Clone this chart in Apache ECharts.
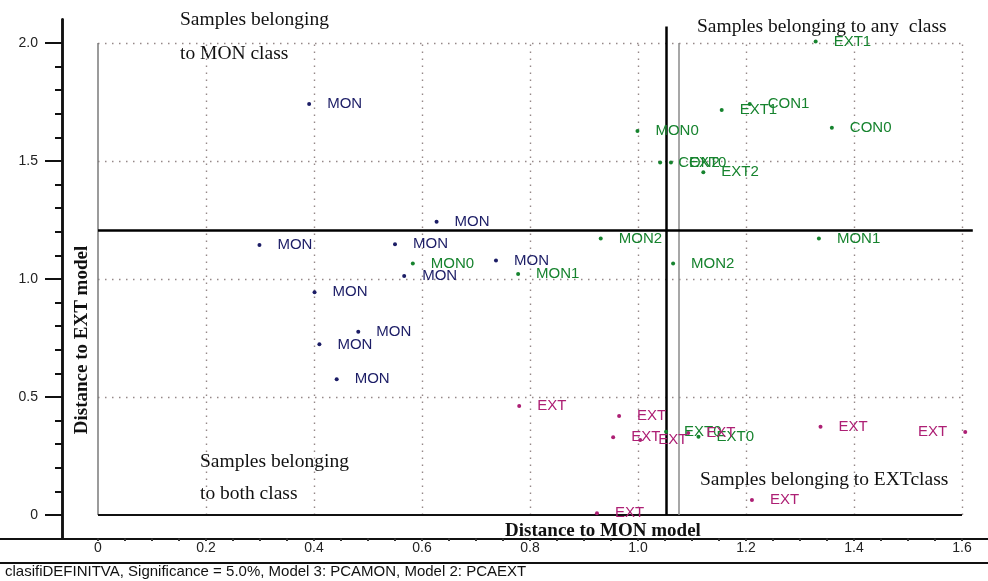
<!DOCTYPE html>
<html>
<head>
<meta charset="utf-8">
<script src="https://cdn.jsdelivr.net/npm/echarts@6/dist/echarts.min.js"></script>
<style>
html, body { margin: 0; padding: 0; background: #fff; }
#chart { width: 988px; height: 581px; }
</style>
</head>
<body>
<div id="chart"></div>
<script>
// Training samples of the MON class
const monX = [0.391, 0.627, 0.299, 0.550, 0.737, 0.567, 0.401, 0.482, 0.410, 0.442];
const monY = [1.742, 1.243, 1.144, 1.147, 1.078, 1.013, 0.944, 0.777, 0.723, 0.575];

// Test samples (labelled by origin)
const testNames = ['MON0', 'MON1', 'MON2', 'MON2', 'MON1', 'MON0', 'CON0', 'EXT1', 'EXT1', 'CON1', 'CON2', 'EXT0', 'EXT2', 'EXT0', 'EXT0'];
const testX = [0.583, 0.778, 0.931, 1.065, 1.335, 0.999, 1.359, 1.329, 1.155, 1.207, 1.041, 1.061, 1.121, 1.052, 1.112];
const testY = [1.066, 1.021, 1.172, 1.066, 1.172, 1.627, 1.641, 2.006, 1.716, 1.742, 1.494, 1.494, 1.452, 0.353, 0.332];

// Training samples of the EXT class
const extX = [0.780, 0.965, 0.954, 1.004, 1.093, 1.338, 1.606, 1.211, 0.924];
const extY = [0.462, 0.419, 0.329, 0.318, 0.347, 0.374, 0.352, 0.064, 0.007];

// Critical distances (significance 5 %)
const critMON = 1.052;
const critMONalt = 1.076;
const critEXT = 1.205;

// Axis ticks
const xTickLabels = [0, 0.2, 0.4, 0.6, 0.8, 1.0, 1.2, 1.4, 1.6];
const yTickLabels = [0, 0.5, 1.0, 1.5, 2.0];
const xMinorTicks = [];
for (let i = 0; i <= 32; i++) xMinorTicks.push(+(i * 0.05).toFixed(2));
const yMinorTicks = [];
for (let i = 0; i <= 20; i++) yMinorTicks.push(+(i * 0.1).toFixed(1));

const C_MON = '#1c1d66';
const C_TEST = '#16832e';
const C_EXT = '#ad1f74';
const LABEL_FONT = 'Liberation Sans, Arial, sans-serif';
const SERIF = 'Liberation Serif, Times New Roman, serif';

function points(xs, ys, names) {
  return xs.map((x, i) => {
    const item = { name: typeof names === 'string' ? names : names[i], value: [x, ys[i]] };
    // points beyond the last grid line get their label on the left
    if (x > xTickLabels[xTickLabels.length - 1]) item.label = { position: 'left' };
    return item;
  });
}

function scatter(name, data, color) {
  return {
    name, type: 'scatter', data, symbolSize: 4, z: 5,
    itemStyle: { color, opacity: 1 },
    label: {
      show: true, position: 'right', distance: 16,
      formatter: '{b}', color, fontFamily: LABEL_FONT, fontSize: 15
    },
    labelLayout: { hideOverlap: false },
    emphasis: { disabled: true },
    animation: false
  };
}

const dotted = { color: '#958888', width: 1.4, type: [1.5, 5.5] };
const seg = (a, b, style) => [{ coord: a, lineStyle: style }, { coord: b }];
const frameLines = [];
xTickLabels.slice(1).forEach(v => frameLines.push(seg([v, 0], [v, 2], dotted)));
yTickLabels.slice(1).forEach(v => frameLines.push(seg([0, v], [1.6, v], dotted)));
frameLines.push(seg([0, 0], [0, 2], { color: '#7a7a7a', width: 1.5, type: 'solid' }));
frameLines.push(seg([0, 0], [1.6, 0], { color: '#111', width: 2, type: 'solid' }));
frameLines.push(seg([critMONalt, 0], [critMONalt, 2], { color: '#8a8a8a', width: 1.5, type: 'solid' }));
frameLines.push(seg([critMON, 0], [critMON, 2.07], { color: '#000', width: 2.5, type: 'solid' }));
frameLines.push(seg([0, critEXT], [1.62, critEXT], { color: '#000', width: 2.5, type: 'solid' }));

const chart = echarts.init(document.getElementById('chart'), null, { renderer: 'canvas' });

const tickFmt = v => (v === 0 ? '0' : v.toFixed(1));
const annFont = '19.5px ' + SERIF;

chart.setOption({
  backgroundColor: '#fff',
  animation: false,
  grid: { left: 0, right: 0, top: 19.4, bottom: 42.4, containLabel: false },
  xAxis: {
    type: 'value', min: -98 / 540, max: 890 / 540,
    axisLine: { onZero: false, lineStyle: { color: '#111', width: 2 } },
    axisTick: { show: true, customValues: xMinorTicks, length: 2.5, lineStyle: { color: '#333', width: 2 } },
    axisLabel: {
      customValues: xTickLabels, formatter: tickFmt, margin: 3,
      color: '#222', fontFamily: LABEL_FONT, fontSize: 14
    },
    splitLine: { show: false }
  },
  yAxis: [
    {
      type: 'value', min: -0.1, max: 2.1, offset: -62,
      axisLine: { show: true, onZero: false, lineStyle: { color: '#111', width: 2.5 } },
      axisTick: { show: true, customValues: yTickLabels, length: 17, lineStyle: { color: '#111', width: 2 } },
      axisLabel: {
        customValues: yTickLabels, formatter: tickFmt, margin: 24,
        color: '#222', fontFamily: LABEL_FONT, fontSize: 14
      },
      splitLine: { show: false }
    },
    {
      type: 'value', min: -0.1, max: 2.1, offset: -62, position: 'left',
      axisLine: { show: true, onZero: false, lineStyle: { color: '#111', width: 2.5 } },
      axisTick: { show: true, customValues: yMinorTicks, length: 7, lineStyle: { color: '#111', width: 2 } },
      axisLabel: { show: false },
      splitLine: { show: false }
    }
  ],
  series: [
    {
      name: 'frame', type: 'line', data: [], silent: true, z: 2,
      markLine: { silent: true, symbol: ['none', 'none'], label: { show: false }, animation: false, data: frameLines }
    },
    scatter('MON', points(monX, monY, 'MON'), C_MON),
    scatter('test', points(testX, testY, testNames), C_TEST),
    scatter('EXT', points(extX, extY, 'EXT'), C_EXT)
  ],
  graphic: [
    { type: 'text', x: 180, y: 20, style: { text: 'Samples belonging', font: annFont, fill: '#111', verticalAlign: 'middle' } },
    { type: 'text', x: 180, y: 54, style: { text: 'to MON class', font: annFont, fill: '#111', verticalAlign: 'middle' } },
    { type: 'text', x: 697, y: 27, style: { text: 'Samples belonging to any  class', font: annFont, fill: '#111', verticalAlign: 'middle' } },
    { type: 'text', x: 200, y: 462, style: { text: 'Samples belonging', font: annFont, fill: '#111', verticalAlign: 'middle' } },
    { type: 'text', x: 200, y: 494, style: { text: 'to both class', font: annFont, fill: '#111', verticalAlign: 'middle' } },
    { type: 'text', x: 700, y: 480, style: { text: 'Samples belonging to EXTclass', font: annFont, fill: '#111', verticalAlign: 'middle' } },
    { type: 'text', x: 603, y: 531, style: { text: 'Distance to MON model', font: 'bold 19px ' + SERIF, fill: '#111', align: 'center', verticalAlign: 'middle' } },
    { type: 'text', x: 82, y: 340, rotation: Math.PI / 2, style: { text: 'Distance to EXT model', font: 'bold 19px ' + SERIF, fill: '#111', align: 'center', verticalAlign: 'middle' } },
    { type: 'line', shape: { x1: 0, y1: 563, x2: 988, y2: 563 }, style: { stroke: '#111', lineWidth: 2 } },
    { type: 'text', x: 5, y: 572, style: { text: 'clasifiDEFINITVA, Significance = 5.0%, Model 3: PCAMON, Model 2: PCAEXT', font: '15px ' + LABEL_FONT, fill: '#111', verticalAlign: 'middle' } }
  ]
});
</script>
</body>
</html>
